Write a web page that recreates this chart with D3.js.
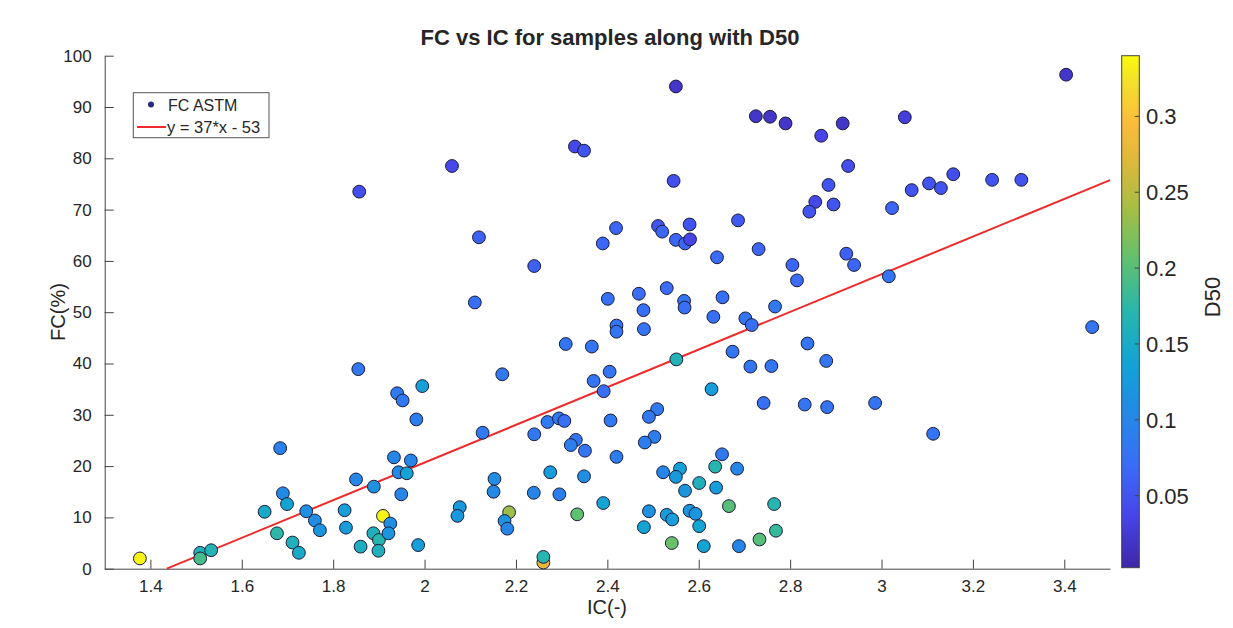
<script src="https://d3js.org/d3.v7.min.js"></script>
<style>
  body { margin: 0; background: #fff; }
  text { font-family: "Liberation Sans", Arial, Helvetica, sans-serif; fill: #262626; }
</style>
<div id="chart"></div>
<script>
// ---- data
icValues = [1.857,2.550,2.725,2.756,2.329,2.349,2.060,2.545,2.119,2.419,2.390,2.511,2.520,2.580,2.550,2.570,2.581,2.686,2.731,2.640,
  2.240,2.110,2.401,2.469,2.530,2.568,2.569,2.652,2.479,2.767,2.632,2.702,2.716,3.404,2.790,2.915,3.051,2.868,2.927,2.884,
  2.855,2.842,2.895,3.023,3.066,3.104,3.130,3.157,3.242,3.306,2.805,2.815,2.923,2.940,3.016,1.377,1.509,1.509,1.533,1.684,
  1.690,1.699,1.650,1.677,1.711,1.725,1.741,1.760,1.771,1.825,1.828,1.860,1.850,1.855,1.889,1.888,1.900,1.899,1.909,1.925,
  1.921,1.933,1.940,1.952,1.982,1.995,1.970,1.943,1.961,1.949,1.986,2.170,2.309,2.366,2.420,2.420,2.480,2.674,2.713,2.759,
  2.628,2.551,2.405,2.370,2.392,2.742,2.509,2.491,2.407,2.127,2.269,2.294,2.306,2.240,2.331,2.320,2.351,2.420,2.503,2.482,
  2.153,2.151,2.275,2.349,2.239,2.295,2.391,2.077,2.072,2.185,2.175,2.181,2.334,2.260,2.260,2.651,2.522,2.559,2.550,2.636,
  2.684,2.601,2.570,2.638,2.666,2.765,2.491,2.530,2.542,2.580,2.593,2.601,2.480,2.541,2.611,2.688,2.733,2.769,2.838,2.879,
  2.832,2.881,2.986,3.113,3.461]
fcValues = [73.5,94.0,88.2,88.1,82.3,81.5,78.5,75.6,64.6,66.4,63.4,66.8,65.7,67.1,64.1,63.4,64.2,67.9,62.3,60.7,
  59.0,51.9,52.6,53.6,54.7,52.2,50.9,52.9,50.4,51.1,49.1,48.8,47.5,96.3,86.8,86.8,88.0,84.4,78.5,74.8,
  71.5,69.6,71.0,70.3,73.8,75.1,74.2,76.9,75.8,75.8,59.2,56.2,61.4,59.2,57.0,2.0,3.1,2.0,3.6,23.5,
  14.7,12.6,11.1,6.9,5.1,3.1,11.2,9.4,7.5,11.4,8.0,4.3,17.4,38.9,16.0,6.9,5.6,3.5,10.3,8.8,
  6.9,21.7,34.2,32.8,29.1,35.6,21.1,18.8,18.6,14.5,4.6,37.9,43.8,43.3,47.4,46.2,46.7,42.3,39.4,39.5,
  35.0,40.8,38.4,36.6,34.6,32.3,31.1,29.6,28.9,26.5,28.6,29.3,28.8,26.2,25.1,24.1,23.0,21.8,25.7,24.6,
  17.5,15.0,18.8,18.0,14.8,14.5,12.8,12.0,10.3,11.0,9.3,7.8,10.6,1.2,2.3,22.3,18.8,19.5,17.9,19.9,
  19.5,16.7,15.2,15.8,12.2,12.6,11.2,10.5,9.6,11.3,10.7,8.3,8.1,5.0,4.4,4.4,5.7,7.4,43.9,40.5,
  32.0,31.5,32.3,26.3,47.1]
d50Values = [0.045,0.02,0.02,0.02,0.04,0.05,0.04,0.045,0.06,0.065,0.065,0.05,0.065,0.05,0.065,0.065,0.035,0.055,0.065,0.07,
  0.06,0.075,0.075,0.07,0.07,0.08,0.075,0.075,0.075,0.085,0.075,0.08,0.075,0.02,0.02,0.02,0.03,0.035,0.045,0.05,
  0.04,0.05,0.05,0.065,0.05,0.05,0.05,0.045,0.05,0.05,0.065,0.07,0.06,0.065,0.08,0.335,0.165,0.19,0.165,0.095,
  0.105,0.14,0.15,0.175,0.16,0.15,0.11,0.11,0.12,0.13,0.13,0.155,0.1,0.085,0.115,0.16,0.17,0.16,0.335,0.11,
  0.12,0.1,0.085,0.085,0.09,0.135,0.1,0.105,0.14,0.1,0.13,0.085,0.08,0.08,0.08,0.08,0.08,0.08,0.08,0.08,
  0.13,0.165,0.08,0.08,0.075,0.075,0.085,0.085,0.085,0.085,0.085,0.085,0.075,0.085,0.08,0.09,0.08,0.09,0.09,0.09,
  0.11,0.105,0.13,0.11,0.1,0.09,0.14,0.125,0.125,0.235,0.12,0.1,0.205,0.28,0.17,0.085,0.1,0.135,0.125,0.17,
  0.1,0.16,0.12,0.13,0.2,0.17,0.115,0.13,0.13,0.12,0.12,0.14,0.14,0.21,0.14,0.1,0.2,0.18,0.08,0.08,
  0.08,0.08,0.08,0.08,0.08]

fitSlope = 36.7
fitIntercept = -52.7
xTicks = [1.4,1.6,1.8,2,2.2,2.4,2.6,2.8,3,3.2,3.4]
yTicks = [0,10,20,30,40,50,60,70,80,90,100]
cbTicks = [0.05,0.1,0.15,0.2,0.25,0.3]

points = icValues.map((d,i)=>({ic:d, fc:fcValues[i], d50:d50Values[i]}))

width = 1233
height = 628

// parula-like colormap
parulaStops = [0,0.1,0.2,0.3,0.4,0.5,0.6,0.7,0.8,0.87,0.95,1]
parulaColors = ['#3e26a8','#4744e8','#3a6cf8','#2389e6','#12a3d6','#27b6ad','#5fc06f','#a5be45','#e0b83a','#fcbc3c','#f3e02a','#f9fb0e']
parula = d3.scaleLinear().domain(parulaStops).range(parulaColors).interpolate(d3.interpolateRgb)

svg = d3.select('#chart').append('svg')
  .attr('width',width).attr('height',height)

xScale = d3.scaleLinear().domain([1.3,3.5]).range([104.7,1110])
yScale = d3.scaleLinear().domain([0,100]).range([568.7,55.7])
cScale = d3.scaleLinear().domain([0.0025,0.34]).range([0,1])

// axes
xAxis = d3.axisBottom(xScale).tickValues(xTicks).tickFormat(d3.format('')).tickSizeInner(-9).tickSizeOuter(0).tickPadding(11)
yAxis = d3.axisLeft(yScale).tickValues(yTicks).tickSizeInner(-9).tickSizeOuter(0).tickPadding(13)

gx = svg.append('g').attr('transform','translate(0 568.7)').call(xAxis)
gy = svg.append('g').attr('transform','translate(104.7 0)').call(yAxis)
svg.selectAll('.domain, .tick line').attr('stroke','#444')
svg.selectAll('.tick text').attr('font-size','17px').attr('fill','#262626')
  .attr('font-family','"Liberation Sans", Arial, sans-serif')

// regression line
svg.append('line')
  .attr('x1',xScale(-fitIntercept/fitSlope)).attr('y1',yScale(0))
  .attr('x2',xScale(3.5)).attr('y2',yScale(fitSlope*3.5+fitIntercept))
  .attr('stroke','#f02a2a').attr('stroke-width',2)

// points
svg.append('g').selectAll('circle')
  .data(points)
  .join('circle')
  .attr('cx',d=>xScale(d.ic))
  .attr('cy',d=>yScale(d.fc))
  .attr('r',6.4)
  .attr('fill',d=>parula(cScale(d.d50)))
  .attr('stroke','#1c1c3a')
  .attr('stroke-width',1)

// title & labels
svg.append('text').attr('x',610).attr('y',45).attr('text-anchor','middle')
  .attr('font-size','22px').attr('font-weight','bold').text('FC vs IC for samples along with D50')
svg.append('text').attr('x',607).attr('y',614).attr('text-anchor','middle')
  .attr('font-size','20px').text('IC(-)')
svg.append('text').attr('transform','translate(65 312) rotate(-90)').attr('text-anchor','middle')
  .attr('font-size','20px').text('FC(%)')

// legend
lg = svg.append('g')
lg.append('rect').attr('x',133.3).attr('y',92.7).attr('width',135.7).attr('height',45)
  .attr('fill','#fff').attr('stroke','#555').attr('stroke-width',1)
lg.append('circle').attr('cx',151).attr('cy',104.5).attr('r',3).attr('fill','#2a2a80')
lg.append('text').attr('x',168).attr('y',110.5).attr('font-size','16px').text('FC ASTM')
lg.append('line').attr('x1',137).attr('x2',166).attr('y1',127).attr('y2',127)
  .attr('stroke','#f02a2a').attr('stroke-width',2)
lg.append('text').attr('x',167).attr('y',132.5).attr('font-size','16.5px').text('y = 37*x - 53')

// colorbar
cbX = 1121.7, cbW = 17.6
cbY = d3.scaleLinear().domain([0.0025,0.34]).range([567.7,55.7])
grad = svg.append('defs').append('linearGradient').attr('id','parula')
  .attr('x1',0).attr('y1',1).attr('x2',0).attr('y2',0)
grad.selectAll('stop').data(d3.range(0,1.0001,0.02)).join('stop')
  .attr('offset',d=>d).attr('stop-color',d=>parula(d))
svg.append('rect').attr('x',cbX).attr('y',55.7).attr('width',cbW).attr('height',512)
  .attr('fill','url(#parula)').attr('stroke','#444').attr('stroke-width',1)
cb = svg.append('g')
cb.selectAll('line').data(cbTicks).join('line')
  .attr('x1',cbX+cbW).attr('x2',cbX+cbW-4.5)
  .attr('y1',d=>cbY(d)).attr('y2',d=>cbY(d)).attr('stroke','#444')
cb.selectAll('text').data(cbTicks).join('text')
  .attr('x',1146).attr('y',d=>cbY(d)).attr('dy','0.36em')
  .attr('font-size','22px').text(d=>d)
svg.append('text').attr('transform','translate(1220 297) rotate(-90)').attr('text-anchor','middle')
  .attr('font-size','22px').text('D50')
</script>
